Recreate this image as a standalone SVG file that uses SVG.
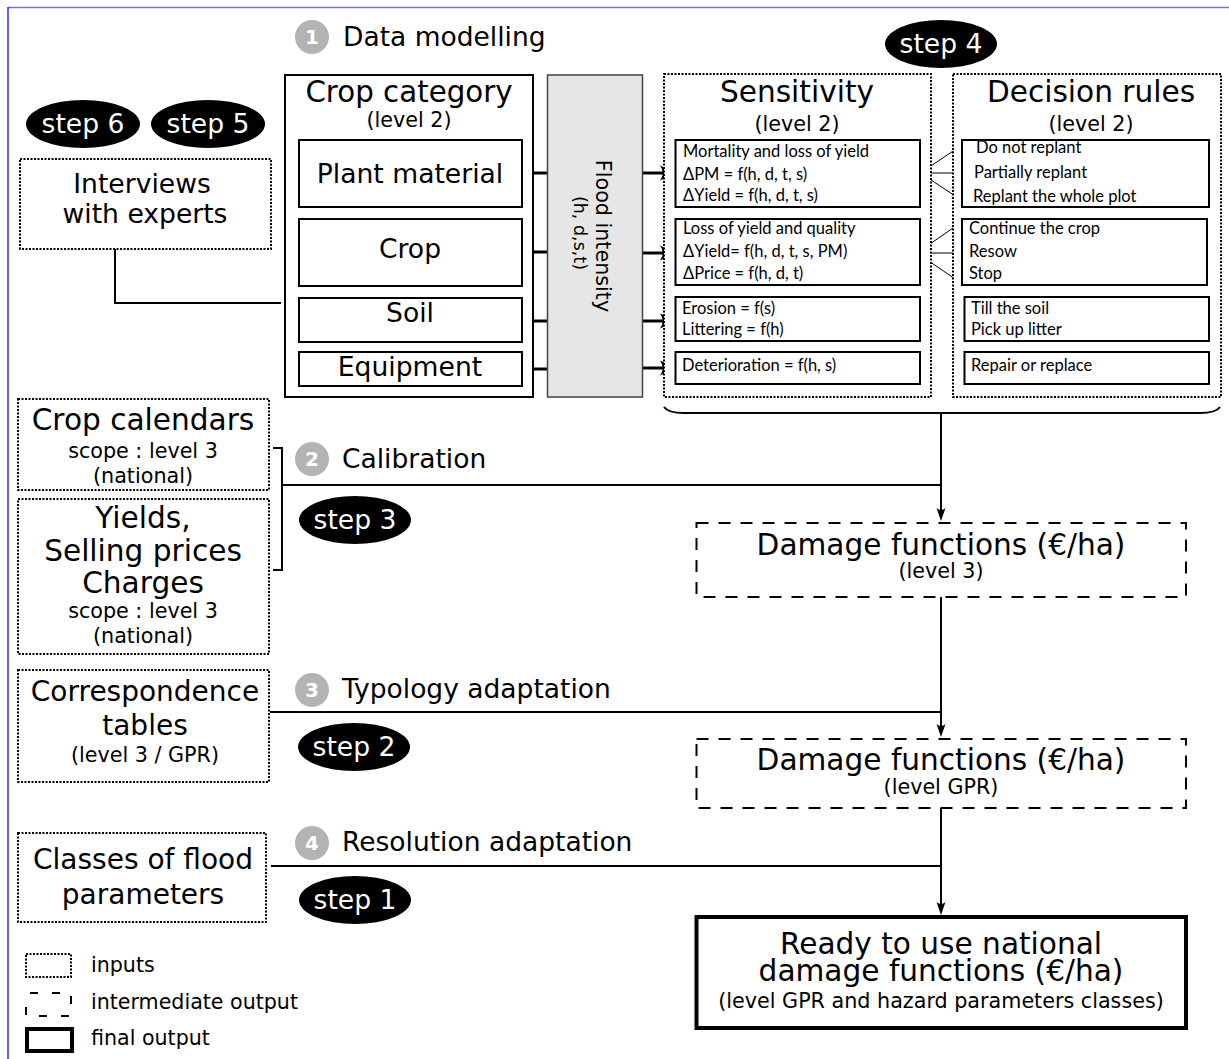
<svg xmlns="http://www.w3.org/2000/svg" xmlns:xlink="http://www.w3.org/1999/xlink" width="1229" height="1059" viewBox="0 0 1229 1059">
<defs>
<style>
text{font-family:"DejaVu Sans","Liberation Sans",sans-serif;fill:#000}
.s{font-family:Lato,"Liberation Sans",sans-serif;font-size:16.5px}
.m{text-anchor:middle}
.box{fill:#fff;stroke:#000;stroke-width:2}
.dot{fill:#fff;stroke:#000;stroke-width:2;stroke-dasharray:2 1.5}
.dash{fill:#fff;stroke:#000;stroke-width:2;stroke-dasharray:12 10}
.ln{fill:none;stroke:#000;stroke-width:2}
.thk{fill:none;stroke:#000;stroke-width:3}
.fan{fill:none;stroke:#000;stroke-width:1}
.ell{fill:#000}
.et{fill:#fff;font-size:26.6px;text-anchor:middle}
.num{fill:#b3b3b3}
.nt{fill:#fff;font-size:20px;font-weight:bold;text-anchor:middle}
.hd{font-size:26.5px}
.sub{font-size:26.6px;text-anchor:middle}
.big{font-size:29.6px;text-anchor:middle}
.lv{font-size:20.7px;text-anchor:middle}
.lg{font-size:20.6px}
</style>
<path id="ahR" d="M0,0 L-16,-7.5 Q-10.5,0 -16,7.5 Z" fill="#000"/>
<path id="ahD" d="M0,0 L-4.5,-13 Q0,-9 4.5,-13 Z" fill="#000"/>
</defs>
<rect x="0" y="0" width="1229" height="1059" fill="#fff"/>
<g id="frame">
<line x1="8" y1="7.5" x2="1229" y2="7.5" stroke="#6b6bff" stroke-width="1.5"/>
<line x1="8" y1="7" x2="8" y2="1059" stroke="#2a2aff" stroke-width="1.5"/>
</g>

<g id="connectors">
<polyline class="ln" points="115,249 115,303 281,303"/>
<line class="thk" x1="522" y1="173" x2="548" y2="173"/>
<line class="thk" x1="522" y1="252" x2="548" y2="252"/>
<line class="thk" x1="522" y1="321" x2="548" y2="321"/>
<line class="thk" x1="522" y1="369" x2="548" y2="369"/>
<line class="thk" x1="642" y1="173" x2="664" y2="173"/><use xlink:href="#ahR" href="#ahR" x="676" y="173"/>
<line class="thk" x1="642" y1="253" x2="664" y2="253"/><use xlink:href="#ahR" href="#ahR" x="676" y="253"/>
<line class="thk" x1="642" y1="321" x2="664" y2="321"/><use xlink:href="#ahR" href="#ahR" x="676" y="321"/>
<line class="thk" x1="642" y1="368" x2="664" y2="368"/><use xlink:href="#ahR" href="#ahR" x="676" y="368"/>
<path class="fan" d="M962,145 L920.5,173 L962,200.5 M920.5,173 L962,173"/>
<path class="fan" d="M953,228 L917,253 L953,277.5 M917,253 L953,253"/>
<path class="ln" d="M664,407 Q668,413 684,413 L1200,413 Q1216,413 1220,407"/>
<line class="ln" x1="941" y1="413" x2="941" y2="512"/><use xlink:href="#ahD" href="#ahD" x="941" y="521"/>
<polyline class="ln" points="273,448 282,448 282,570 273,570"/>
<line class="ln" x1="282" y1="485" x2="941" y2="485"/>
<line class="ln" x1="941" y1="597" x2="941" y2="728"/><use xlink:href="#ahD" href="#ahD" x="941" y="737"/>
<line class="ln" x1="270" y1="712" x2="941" y2="712"/>
<line class="ln" x1="941" y1="808" x2="941" y2="906"/><use xlink:href="#ahD" href="#ahD" x="941" y="915"/>
<line class="ln" x1="271" y1="866" x2="941" y2="866"/>
</g>

<g id="title-data-modelling">
<circle class="num" cx="312" cy="37" r="17"/>
<text class="nt" x="312" y="44">1</text>
<text class="hd" x="343" y="46">Data modelling</text>
</g>

<g id="step6"><ellipse class="ell" cx="83" cy="124" rx="57" ry="24"/><text class="et" x="83" y="133">step 6</text></g>
<g id="step5"><ellipse class="ell" cx="208" cy="124" rx="57" ry="24"/><text class="et" x="208" y="133">step 5</text></g>
<g id="step4"><ellipse class="ell" cx="941" cy="44" rx="56" ry="24"/><text class="et" x="941" y="53">step 4</text></g>

<g id="interviews">
<rect class="dot" x="20" y="159" width="251" height="90"/>
<text class="sub" x="142" y="193">Interviews</text>
<text class="sub" x="145" y="223">with experts</text>
</g>

<g id="crop-category">
<rect class="box" x="285" y="75" width="248" height="322"/>
<text class="m" x="409" y="102" font-size="29.3">Crop category</text>
<text class="lv" x="409" y="127">(level 2)</text>
</g>
<g id="plant-material"><rect class="box" x="299" y="140" width="223" height="67"/><text class="sub" x="410" y="183">Plant material</text></g>
<g id="crop"><rect class="box" x="299" y="219" width="223" height="67"/><text class="sub" x="410" y="258">Crop</text></g>
<g id="soil"><rect class="box" x="299" y="298" width="223" height="44"/><text class="sub" x="410" y="322">Soil</text></g>
<g id="equipment"><rect class="box" x="299" y="352" width="223" height="34"/><text class="sub" x="410" y="376">Equipment</text></g>

<g id="flood-intensity">
<rect x="547.5" y="75" width="95" height="322" fill="#e6e6e6" stroke="#444" stroke-width="1.5"/>
<text class="m" font-size="20.7" transform="translate(596,236) rotate(90)">Flood intensity</text>
<text class="m" font-size="17.5" transform="translate(574,233) rotate(90)">(h, d,s,t)</text>
</g>

<g id="sensitivity">
<rect class="dot" x="664" y="74" width="267" height="323"/>
<text class="big" x="797" y="102">Sensitivity</text>
<text class="lv" x="797" y="131">(level 2)</text>
</g>
<g id="sens-plant"><rect class="box" x="675.5" y="140" width="244.5" height="67"/>
<text class="s" x="683" y="157">Mortality and loss of yield</text>
<text class="s" x="683" y="180">ΔPM = f(h, d, t, s)</text>
<text class="s" x="683" y="201">ΔYield = f(h, d, t, s)</text></g>
<g id="sens-crop"><rect class="box" x="675.5" y="219" width="244.5" height="66"/>
<text class="s" x="683" y="234">Loss of yield and quality</text>
<text class="s" x="683" y="257">ΔYield= f(h, d, t, s, PM)</text>
<text class="s" x="683" y="279">ΔPrice = f(h, d, t)</text></g>
<g id="sens-soil"><rect class="box" x="675.5" y="297" width="244.5" height="44"/>
<text class="s" x="682" y="314">Erosion = f(s)</text>
<text class="s" x="682" y="335">Littering = f(h)</text></g>
<g id="sens-equip"><rect class="box" x="675.5" y="352" width="244.5" height="32"/>
<text class="s" x="682" y="371">Deterioration = f(h, s)</text></g>

<g id="decision-rules">
<rect class="dot" x="953" y="74" width="268" height="323"/>
<text class="big" x="1091" y="102">Decision rules</text>
<text class="lv" x="1091" y="131">(level 2)</text>
</g>
<g id="dec-plant"><rect class="box" x="962" y="140" width="247" height="67"/>
<text class="s" x="976" y="153">Do not replant</text>
<text class="s" x="974" y="178">Partially replant</text>
<text class="s" x="973" y="202">Replant the whole plot</text></g>
<g id="dec-crop"><rect class="box" x="962" y="219" width="245" height="66"/>
<text class="s" x="969" y="234">Continue the crop</text>
<text class="s" x="969" y="257">Resow</text>
<text class="s" x="969" y="279">Stop</text></g>
<g id="dec-soil"><rect class="box" x="964.5" y="297" width="244.5" height="44"/>
<text class="s" x="971" y="314">Till the soil</text>
<text class="s" x="971" y="335">Pick up litter</text></g>
<g id="dec-equip"><rect class="box" x="964.5" y="352" width="244.5" height="32"/>
<text class="s" x="971" y="371">Repair or replace</text></g>

<g id="crop-calendars">
<rect class="dot" x="18" y="399" width="251" height="91"/>
<text class="big" x="143" y="430">Crop calendars</text>
<text class="lv" x="143" y="458">scope : level 3</text>
<text class="lv" x="143" y="483">(national)</text>
</g>
<g id="yields">
<rect class="dot" x="18" y="499" width="251" height="155"/>
<text class="big" x="143" y="528">Yields,</text>
<text class="big" x="143" y="561">Selling prices</text>
<text class="big" x="143" y="593">Charges</text>
<text class="lv" x="143" y="618">scope : level 3</text>
<text class="lv" x="143" y="643">(national)</text>
</g>
<g id="title-calibration">
<circle class="num" cx="312" cy="459" r="17"/>
<text class="nt" x="312" y="466">2</text>
<text class="hd" x="342" y="468">Calibration</text>
</g>
<g id="step3"><ellipse class="ell" cx="355" cy="520" rx="56" ry="24"/><text class="et" x="355" y="529">step 3</text></g>

<g id="damage-level3">
<rect class="dash" x="696.5" y="523" width="489.5" height="74"/>
<text class="big" x="941" y="555">Damage functions (€/ha)</text>
<text class="lv" x="941" y="578">(level 3)</text>
</g>

<g id="correspondence">
<rect class="dot" x="18" y="670" width="251" height="112"/>
<text class="m" x="145" y="701" font-size="28">Correspondence</text>
<text class="m" x="145" y="735" font-size="28">tables</text>
<text class="lv" x="145" y="762">(level 3 / GPR)</text>
</g>
<g id="title-typology">
<circle class="num" cx="312" cy="690" r="17"/>
<text class="nt" x="312" y="697">3</text>
<text class="hd" x="342" y="698">Typology adaptation</text>
</g>
<g id="step2"><ellipse class="ell" cx="354" cy="747" rx="56" ry="24"/><text class="et" x="354" y="756">step 2</text></g>

<g id="damage-gpr">
<rect class="dash" x="696.5" y="739" width="489.5" height="69"/>
<text class="big" x="941" y="770">Damage functions (€/ha)</text>
<text class="lv" x="941" y="794">(level GPR)</text>
</g>

<g id="classes">
<rect class="dot" x="18" y="833" width="248" height="89"/>
<text class="m" x="143" y="869" font-size="28">Classes of flood</text>
<text class="m" x="143" y="904" font-size="28">parameters</text>
</g>
<g id="title-resolution">
<circle class="num" cx="312" cy="843" r="17"/>
<text class="nt" x="312" y="850">4</text>
<text class="hd" x="342" y="851">Resolution adaptation</text>
</g>
<g id="step1"><ellipse class="ell" cx="355" cy="900" rx="56" ry="24"/><text class="et" x="355" y="909">step 1</text></g>

<g id="final-output">
<rect x="696.5" y="917" width="489.5" height="111" fill="#fff" stroke="#000" stroke-width="4"/>
<text class="big" x="941" y="954">Ready to use national</text>
<text class="big" x="941" y="981">damage functions (€/ha)</text>
<text class="lv" x="941" y="1008">(level GPR and hazard parameters classes)</text>
</g>

<g id="legend">
<rect class="dot" x="26" y="954" width="45" height="23"/>
<text class="lg" x="91" y="972">inputs</text>
<rect x="26" y="993" width="45" height="23" fill="none" stroke="#000" stroke-width="2" stroke-dasharray="8 14" stroke-dashoffset="-4"/>
<text class="lg" x="91" y="1009">intermediate output</text>
<rect x="27" y="1029" width="45" height="22" fill="none" stroke="#000" stroke-width="4"/>
<text class="lg" x="91" y="1045">final output</text>
</g>
</svg>
